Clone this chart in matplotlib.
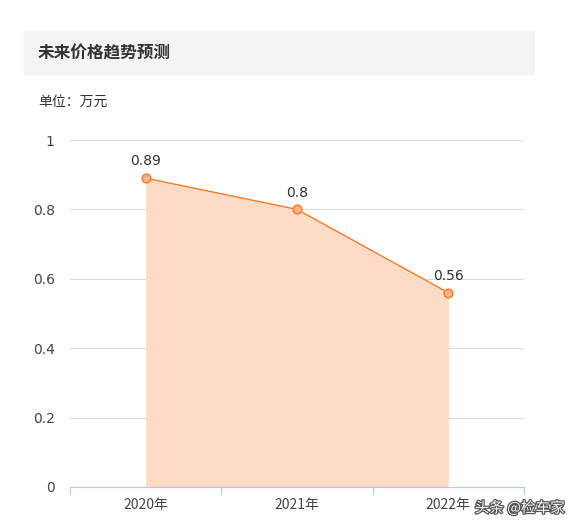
import matplotlib.pyplot as plt
import matplotlib.patheffects as pe
from matplotlib.patches import Rectangle

plt.rcParams['font.family'] = ['Noto Sans CJK SC', 'DejaVu Sans']

years = ['2020年', '2021年', '2022年']
prices = [0.89, 0.8, 0.56]
yticks = [0, 0.2, 0.4, 0.6, 0.8, 1]
ytick_labels = ['0', '0.2', '0.4', '0.6', '0.8', '1']

W, H = 577, 529
fig = plt.figure(figsize=(W / 100, H / 100), dpi=100)

## title box
fig.patches.append(Rectangle((24 / W, 1 - 74 / H), 510 / W, 43 / H,
                             transform=fig.transFigure, color='#f4f4f4', zorder=0))
fig.text(38 / W, 1 - 53 / H, '未来价格趋势预测', fontsize=12, fontweight='bold',
         color='#333333', va='center')
fig.text(38 / W, 1 - 102 / H, '单位：万元', fontsize=10, color='#333333', va='center')

ax = fig.add_axes([70 / W, 1 - 487 / H, 454 / W, 347 / H])
x = list(range(len(years)))
ax.fill_between(x, prices, 0, color='#fddbc4', lw=0, zorder=1)
ax.plot(x, prices, color='#f57a29', lw=1, zorder=3)
ax.scatter(x, prices, s=40, facecolor='#fcb48a', edgecolor='#f57a29', lw=1, zorder=4)
for xi, p in zip(x, prices):
    ax.annotate(f'{p:g}', (xi, p), xytext=(0, 7), textcoords='offset points',
                ha='center', va='bottom', fontsize=10, color='#333333',
                family='DejaVu Sans')

ax.set_xlim(-0.5, 2.5)
ax.set_ylim(0, 1)
ax.set_yticks(yticks)
ax.set_yticklabels(ytick_labels, family='DejaVu Sans')
ax.grid(axis='y', color='#dcdcdc', lw=0.8, zorder=0)
ax.set_axisbelow(True)

ax.set_xticks([-0.5, 0.5, 1.5, 2.5])
ax.set_xticklabels([])
ax.set_xticks(x, minor=True)
ax.set_xticklabels(years, minor=True, fontsize=10, color='#444444')
ax.tick_params(axis='x', which='major', length=5, color='#b8c8dc', width=0.8)
ax.tick_params(axis='x', which='minor', length=0, pad=8)
ax.tick_params(axis='y', length=0, pad=11, labelsize=10, labelcolor='#444444')

for s in ['top', 'right', 'left']:
    ax.spines[s].set_visible(False)
ax.spines['bottom'].set_color('#b8c8dc')
ax.spines['bottom'].set_linewidth(0.8)

fig.text(565 / W, 1 - 508 / H, '头条 @检车家', fontsize=10.5, color='white', ha='right',
         va='center', path_effects=[pe.withStroke(linewidth=1.8, foreground='#555555')])

fig.savefig('out.png', dpi=100)
